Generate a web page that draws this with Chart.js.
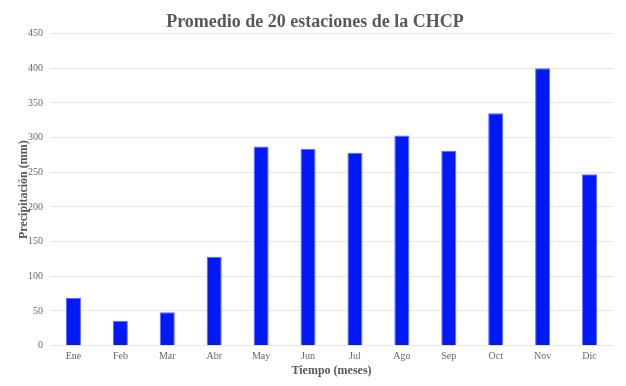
<!DOCTYPE html>
<html><head><meta charset="utf-8">
<script src="https://cdn.jsdelivr.net/npm/chart.js@4"></script>
<style>html,body{margin:0;padding:0;background:#fff}#w{width:626px;height:386px}</style>
</head><body><div id="w"><canvas id="c"></canvas></div>
<script>
const categories = ["Ene","Feb","Mar","Abr","May","Jun","Jul","Ago","Sep","Oct","Nov","Dic"];
const precipitation = [69, 36, 48, 128, 287, 284, 278, 303, 281, 335, 400, 247];
const yTicks = [0,50,100,150,200,250,300,350,400,450];
const serif = "'Liberation Serif', 'Times New Roman', serif";
new Chart(document.getElementById('c'), {
  type: 'bar',
  data: { labels: categories, datasets: [{ data: precipitation, backgroundColor: '#0019f5', borderColor: '#5a6cff', borderWidth: 1, barPercentage: 0.32, categoryPercentage: 1 }] },
  options: {
    responsive: true, maintainAspectRatio: false, animation: false,
    layout: { padding: { left: 17, right: 13, top: 4, bottom: 11.2 } },
    plugins: {
      legend: { display: false }, tooltip: { enabled: false },
      title: { display: true, text: 'Promedio de 20 estaciones de la CHCP', color: '#595959', font: { family: serif, size: 18, weight: 'bold' }, padding: { top: 8, bottom: 0 } }
    },
    scales: {
      x: {
        grid: { display: false, drawTicks: false }, border: { display: false },
        ticks: { color: '#666', font: { family: serif, size: 10 }, padding: 5 },
        title: { display: true, text: 'Tiempo (meses)', color: '#595959', font: { family: serif, size: 12, weight: 'bold', lineHeight: 0.6 }, padding: { top: 0, bottom: 0 } }
      },
      y: {
        min: 0, max: 450,
        afterBuildTicks: ax => { ax.ticks = yTicks.map(v => ({ value: v })); },
        afterFit: ax => { ax.width = 33; },
        grid: { color: '#e6e6e6', drawTicks: false }, border: { display: false },
        ticks: { color: '#666', font: { family: serif, size: 10 }, padding: 7 },
        title: { display: true, text: 'Precipitación (mm)', color: '#595959', font: { family: serif, size: 12, weight: 'bold' }, padding: { top: 0, bottom: 0 } }
      }
    }
  }
});
</script></body></html>
